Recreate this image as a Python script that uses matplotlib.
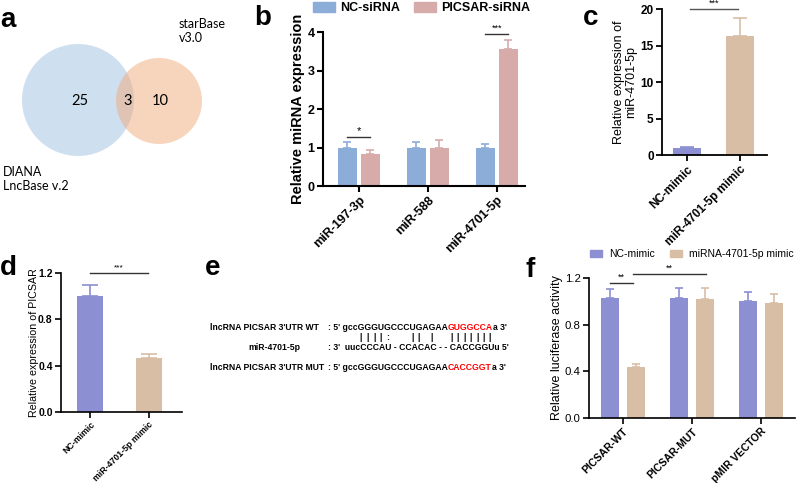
import numpy as np
import matplotlib
matplotlib.use("Agg")
import matplotlib.pyplot as plt
from matplotlib.patches import Circle, Patch
from matplotlib.font_manager import FontProperties

plt.rcParams['font.family'] = ['Liberation Sans', 'DejaVu Sans']

# ---------------- data ----------------
venn_left_label = "DIANA\nLncBase v.2"
venn_right_label = "starBase\nv3.0"
venn_left_only = 25
venn_both = 3
venn_right_only = 10

b_categories = ['miR-197-3p', 'miR-588', 'miR-4701-5p']
b_series = ['NC-siRNA', 'PICSAR-siRNA']
b_nc = [1.0, 1.0, 1.0]
b_nc_err = [0.13, 0.13, 0.10]
b_si = [0.84, 1.0, 3.57]
b_si_err = [0.10, 0.19, 0.23]

c_categories = ['NC-mimic', 'miR-4701-5p mimic']
c_vals = [1.0, 16.3]
c_err = [0.12, 2.5]

d_categories = ['NC-mimic', 'miR-4701-5p mimic']
d_vals = [1.0, 0.47]
d_err = [0.10, 0.035]

f_categories = ['PICSAR-WT', 'PICSAR-MUT', 'pMIR VECTOR']
f_series = ['NC-mimic', 'miRNA-4701-5p mimic']
f_nc = [1.03, 1.03, 1.0]
f_nc_err = [0.075, 0.085, 0.08]
f_mimic = [0.435, 1.02, 0.99]
f_mimic_err = [0.03, 0.095, 0.07]

e_wt_name = "lncRNA PICSAR 3'UTR WT"
e_mir_name = "miR-4701-5p"
e_mut_name = "lncRNA PICSAR 3'UTR MUT"
e_wt_seq = ["gccGGGUGCCCUGAGAA", "GUGGCCA", "a"]
e_mut_seq = ["gccGGGUGCCCUGAGAA", "CACCGGT", "a"]
e_mir_seq = "uucCCCAU - CCACAC - - CACCGGUu"
e_pairs = "   ||||:   || |  |||||||  "

# ---------------- colours ----------------
C_B_NC = '#8dadd9'
C_B_SI = '#d8abab'
C_NC = '#8c90d2'
C_MM = '#d9bea6'

W, H = 796, 483
fig = plt.figure(figsize=(W / 100, H / 100), dpi=100)


def rect(x0, y0, x1, y1):
    return [x0 / W, 1 - y1 / H, (x1 - x0) / W, (y1 - y0) / H]


def style_axes(ax, lw=1.2, tick_size=8, bold=True):
    for s in ['top', 'right']:
        ax.spines[s].set_visible(False)
    for s in ['left', 'bottom']:
        ax.spines[s].set_linewidth(lw)
    ax.tick_params(direction='out', length=4, width=lw, pad=2)
    ax.tick_params(axis='y', labelsize=tick_size)
    ax.set_facecolor('none')
    for t in ax.get_yticklabels():
        t.set_fontweight('bold' if bold else 'normal')


def ebar(ax, x, v, e, color, cs, lw=1.2):
    ax.errorbar(x, v, yerr=[np.zeros(len(v)), e], fmt='none', ecolor=color,
                elinewidth=lw, capsize=cs, capthick=lw, zorder=1)


# ---------------- panel b ----------------
axb = fig.add_axes(rect(323, 32, 525, 186))
xb = np.arange(len(b_categories))
off, wd = 0.167, 0.275
axb.bar(xb - off, b_nc, wd, color=C_B_NC, zorder=2, label=b_series[0])
axb.bar(xb + off, b_si, wd, color=C_B_SI, zorder=2, label=b_series[1])
ebar(axb, xb - off, b_nc, b_nc_err, C_B_NC, 3)
ebar(axb, xb + off, b_si, b_si_err, C_B_SI, 3)
axb.set_xlim(-0.52, 2.41)
axb.set_ylim(0, 4)
axb.set_yticks([0, 1, 2, 3, 4])
axb.set_xticks(xb)
style_axes(axb, lw=1.5, tick_size=9)
axb.set_xticklabels(b_categories, rotation=45, ha='right', rotation_mode='anchor',
                    fontsize=9, fontweight='bold')
axb.set_ylabel('Relative miRNA expression', fontsize=10.5, fontweight='bold', va='center')
axb.yaxis.set_label_coords(-0.124, 0.5)
axb.plot([-off, off], [1.28, 1.28], color='#333333', lw=1, clip_on=False)
axb.text(0, 1.30, '*', ha='center', va='bottom', fontsize=8)
axb.plot([2 - off, 2 + off], [3.95, 3.95], color='#333333', lw=1, clip_on=False)
axb.text(2, 3.97, '***', ha='center', va='bottom', fontsize=6.5)
axb.legend(handles=[Patch(color=C_B_NC, label=b_series[0]), Patch(color=C_B_SI, label=b_series[1])],
           loc='center', bbox_to_anchor=(421.5 / W, 1 - 8 / H), bbox_transform=fig.transFigure,
           ncol=2, frameon=False, prop=dict(weight='bold', size=9),
           handlelength=1.76, handleheight=0.8, handletextpad=0.4, columnspacing=1.1,
           borderpad=0, borderaxespad=0)

# ---------------- panel c ----------------
axc = fig.add_axes(rect(662, 9.3, 767, 155))
xc = np.arange(len(c_categories))
axc.bar(xc, c_vals, 0.53, color=[C_NC, C_MM], zorder=2)
ebar(axc, xc[:1], c_vals[:1], c_err[:1], C_NC, 5)
ebar(axc, xc[1:], c_vals[1:], c_err[1:], C_MM, 5)
axc.set_xlim(-0.476, 1.52)
axc.set_ylim(0, 20)
axc.set_yticks([0, 5, 10, 15, 20])
axc.set_xticks(xc)
style_axes(axc, lw=1.3, tick_size=8.5)
axc.set_xticklabels(c_categories, rotation=45, ha='right', rotation_mode='anchor',
                    fontsize=8.5, fontweight='bold')
axc.set_ylabel('Relative expression of\nmiR-4701-5p', fontsize=9, va='center', linespacing=1.0)
axc.yaxis.set_label_coords(-0.35, 0.5)
axc.plot([0.05, 0.97], [20, 20], color='#555555', lw=1, clip_on=False)
axc.text(0.51, 20.15, '***', ha='center', va='bottom', fontsize=6.5, clip_on=False)

# ---------------- panel d ----------------
axd = fig.add_axes(rect(61, 273, 182, 412))
xd = np.arange(len(d_categories))
axd.bar(xd, d_vals, 0.45, color=[C_NC, C_MM], zorder=2)
ebar(axd, xd[:1], d_vals[:1], d_err[:1], C_NC, 6)
ebar(axd, xd[1:], d_vals[1:], d_err[1:], C_MM, 6)
axd.set_xlim(-0.5, 1.57)
axd.set_ylim(0, 1.2)
axd.set_yticks([0, 0.4, 0.8, 1.2])
axd.set_yticklabels(['0.0', '0.4', '0.8', '1.2'])
axd.set_xticks(xd)
style_axes(axd, lw=1.2, tick_size=7.5)
axd.set_xticklabels(d_categories, rotation=45, ha='right', rotation_mode='anchor',
                    fontsize=6.3, fontweight='bold')
axd.set_ylabel('Relative expression of PICSAR', fontsize=7.7, va='center')
axd.yaxis.set_label_coords(-0.227, 0.5)
axd.plot([0.0, 0.98], [1.2, 1.2], color='#333333', lw=1, clip_on=False)
axd.text(0.49, 1.215, '***', ha='center', va='bottom', fontsize=6, clip_on=False)

# ---------------- panel f ----------------
axf = fig.add_axes(rect(589, 278, 795, 418))
xf = np.arange(len(f_categories))
offf, wdf = 0.188, 0.27
axf.bar(xf - offf, f_nc, wdf, color=C_NC, zorder=2)
axf.bar(xf + offf, f_mimic, wdf, color=C_MM, zorder=2)
ebar(axf, xf - offf, f_nc, f_nc_err, C_NC, 3.2)
ebar(axf, xf + offf, f_mimic, f_mimic_err, C_MM, 3.2)
axf.set_xlim(-0.49, 2.49)
axf.set_ylim(0, 1.2)
axf.set_yticks([0, 0.4, 0.8, 1.2])
axf.set_yticklabels(['0.0', '0.4', '0.8', '1.2'])
axf.set_xticks(xf)
style_axes(axf, lw=1.2, tick_size=8.2, bold=False)
axf.set_xticklabels(f_categories, rotation=45, ha='right', rotation_mode='anchor',
                    fontsize=7.6, fontweight='bold')
axf.set_ylabel('Relative luciferase activity', fontsize=9, va='center')
axf.yaxis.set_label_coords(-0.155, 0.5)
axf.plot([-0.19, 0.14], [1.157, 1.157], color='#333333', lw=1, clip_on=False)
axf.text(-0.025, 1.165, '**', ha='center', va='bottom', fontsize=6.5)
axf.plot([0.14, 1.2], [1.237, 1.237], color='#333333', lw=1, clip_on=False)
axf.text(0.67, 1.245, '**', ha='center', va='bottom', fontsize=6.5, clip_on=False)
axf.legend(handles=[Patch(color=C_NC, label=f_series[0]), Patch(color=C_MM, label=f_series[1])],
           loc='center', bbox_to_anchor=(691.5 / W, 1 - 254 / H), bbox_transform=fig.transFigure,
           ncol=2, frameon=False, prop=dict(size=7.5),
           handlelength=1.15, handleheight=0.7, handletextpad=0.67, columnspacing=1.44,
           borderpad=0, borderaxespad=0)

# ---------------- overlay: venn, panel e, letters ----------------
ov = fig.add_axes([0, 0, 1, 1])
ov.set_xlim(0, W)
ov.set_ylim(H, 0)
ov.axis('off')
ov.set_zorder(10)

ov.add_patch(Circle((78, 100), 56, facecolor='#9fc1e3', alpha=0.5, edgecolor='none'))
ov.add_patch(Circle((159, 101), 43, facecolor='#f1ab7b', alpha=0.5, edgecolor='none'))
vf = ['Lato', 'DejaVu Sans']
ov.text(80, 101, str(venn_left_only), ha='center', va='center', fontsize=10.5, family=vf)
ov.text(128, 101, str(venn_both), ha='center', va='center', fontsize=10.5, family=vf)
ov.text(160, 101, str(venn_right_only), ha='center', va='center', fontsize=10.5, family=vf)
ov.text(179, 42, venn_right_label, ha='left', va='baseline', fontsize=9, family=vf, linespacing=1.25)
ov.text(3, 190, venn_left_label, ha='left', va='baseline', fontsize=9, family=vf, linespacing=1.25)

# panel letters
for letter, x, y in [('a', 0, 27), ('b', 254, 25), ('c', 583, 25), ('d', 0, 275), ('e', 205, 275), ('f', 526, 277)]:
    ov.text(x, y, letter, fontsize=20, fontweight='bold', ha='left', va='baseline')

# panel e
fp_name = FontProperties(family='Liberation Sans', weight='bold', size=6.2)
fp = FontProperties(family='Liberation Sans', weight='bold', size=6.2)
fig.canvas.draw()
renderer = fig.canvas.get_renderer()


def tw(s):
    w, h, d = renderer.get_text_width_height_descent(s, fp, ismath=False)
    return w


def seq_line(y, name, pieces, name_x=210):
    ov.text(name_x, y, name, fontproperties=fp_name, ha='left', va='center')
    x = 328
    parts = [(': 5\' ' + pieces[0], 'black'), (pieces[1], 'red'), (pieces[2] + ' 3\'', 'black')]
    for s, col in parts:
        ov.text(x, y, s, fontproperties=fp, ha='left', va='center', color=col)
        x += tw(s)


seq_line(327, e_wt_name, e_wt_seq)
full_wt = ''.join(e_wt_seq)
prefix = ': 5\' '
for i, ch in enumerate(e_pairs):
    if ch != ' ':
        cx = 328 + tw(prefix + full_wt[:i]) + tw(full_wt[i]) / 2
        ov.text(cx, 337, ch, fontproperties=fp, ha='center', va='center')
ov.text(248, 347, e_mir_name, fontproperties=fp_name, ha='left', va='center')
ov.text(328, 347, ': 3\'  ' + e_mir_seq + ' 5\'', fontproperties=fp, ha='left', va='center')
seq_line(368, e_mut_name, e_mut_seq)

fig.savefig('out.png', dpi=100)
